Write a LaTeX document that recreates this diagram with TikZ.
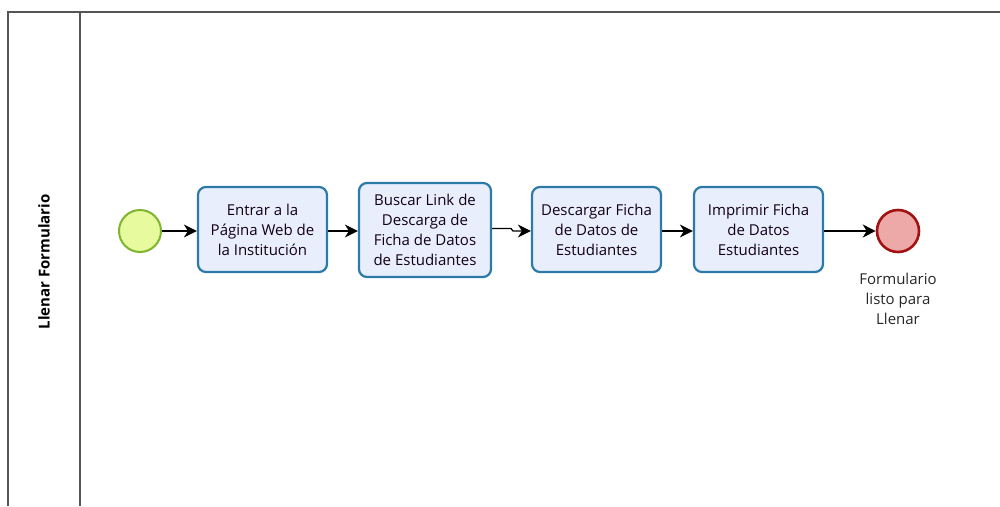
\documentclass[tikz,border=0pt]{standalone}
\usepackage{fontspec}
\setmainfont{Open Sans}
\usetikzlibrary{arrows.meta}
\definecolor{laneline}{HTML}{555555}
\definecolor{taskfill}{HTML}{E8EEFC}
\definecolor{taskdraw}{HTML}{2C7AA8}
\definecolor{startfill}{HTML}{E8FA9E}
\definecolor{startdraw}{HTML}{7DB52E}
\definecolor{endfill}{HTML}{EDA8A8}
\definecolor{enddraw}{HTML}{A31212}
\tikzset{
  lane/.style={draw=laneline, line width=2pt},
  task/.style={draw=taskdraw, fill=taskfill, line width=2.2pt, rounded corners=8pt,
    minimum width=129pt, minimum height=85pt, align=center, inner sep=2pt,
    font=\fontsize{15}{20}\selectfont, text=black!85!violet},
  startev/.style={circle, draw=startdraw, fill=startfill, line width=2pt, minimum size=42pt, inner sep=0pt},
  endev/.style={circle, draw=enddraw, fill=endfill, line width=2.6pt, minimum size=42pt, inner sep=0pt},
  flow/.style={line width=1.3pt, -{Stealth[length=13pt, width=13pt, inset=4pt]}},
  evlabel/.style={align=center, font=\fontsize{15}{20}\selectfont, text=black!85},
  lanetitle/.style={rotate=90, font=\bfseries\fontsize{15}{18}\selectfont}
}
\begin{document}
\begin{tikzpicture}[x=1pt, y=-1pt]
  \useasboundingbox (0,0) rectangle (1000,506);
  % swimlane frame
  \draw[lane] (8,506) -- (8,12) -- (1000,12);
  \draw[lane] (80,12) -- (80,506);
  \node[lanetitle] (lanename) at (44,262) {Llenar Formulario};

  % events and tasks
  \node[startev] (start) at (140,231) {};
  \node[task, minimum width=129pt, minimum height=85pt] (t1) at (262.5,229.5) {Entrar a la\\Página Web de\\la Institución};
  \node[task, minimum width=132pt, minimum height=94pt] (t2) at (425,230) {Buscar Link de\\Descarga de\\Ficha de Datos\\de Estudiantes};
  \node[task, minimum width=129pt, minimum height=85pt] (t3) at (596.5,229.5) {Descargar Ficha\\de Datos de\\Estudiantes};
  \node[task, minimum width=129pt, minimum height=85pt] (t4) at (758.5,229.5) {Imprimir Ficha\\de Datos\\Estudiantes};
  \node[endev] (end) at (898,231) {};
  \node[evlabel, anchor=north] (endlabel) at (898,270) {Formulario\\listo para\\Llenar};

  % sequence flows
  \draw[flow] (start) -- (t1.west |- start);
  \draw[flow] (t1.east |- start) -- (t2.west |- start);
  \coordinate (j1) at (511,228.5);
  \coordinate (j2) at (513,231);
  \draw[flow] (t2.east |- j1) -- (j1) -- (j2) -- (t3.west |- j2);
  \draw[flow] (t3.east |- start) -- (t4.west |- start);
  \draw[flow] (t4.east |- start) -- (end);
\end{tikzpicture}
\end{document}
